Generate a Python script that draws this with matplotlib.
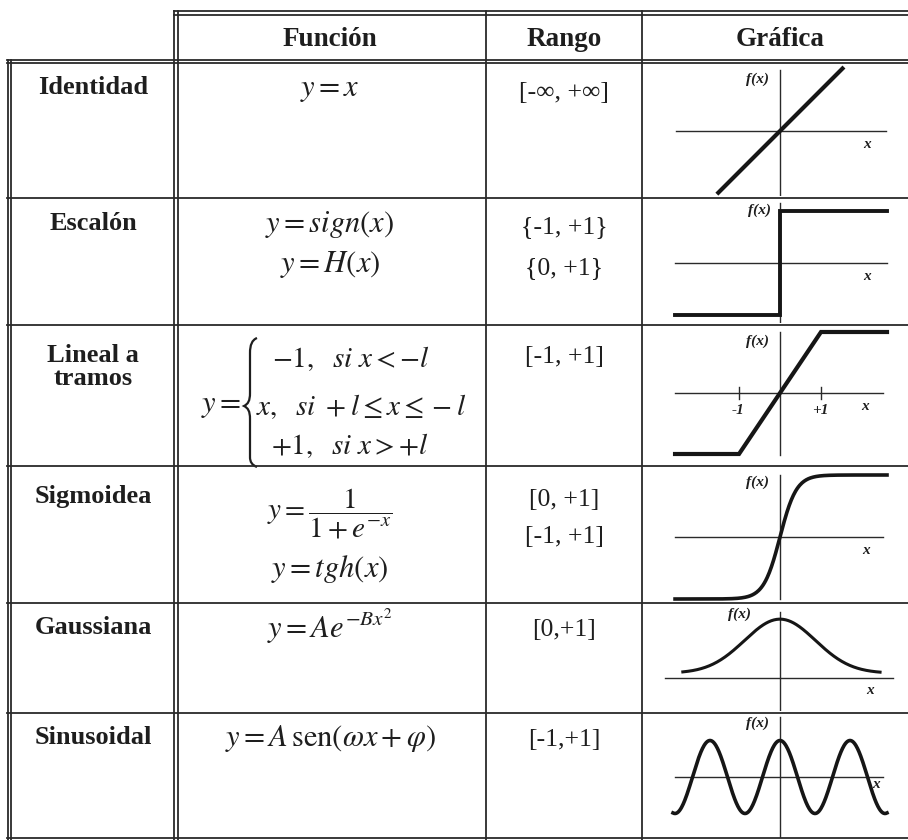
import numpy as np
import matplotlib.pyplot as plt
from matplotlib.path import Path
from matplotlib.patches import PathPatch

plt.rcParams['mathtext.fontset'] = 'stix'

W, H = 908, 840

# table content
headers = ["Función", "Rango", "Gráfica"]
row_names = ["Identidad", "Escalón", "Lineal a\ntramos", "Sigmoidea", "Gaussiana", "Sinusoidal"]
formulas = [
    ["$y = x$"],
    ["$y = sign(x)$", "$y = H(x)$"],
    [],  # piecewise, drawn separately
    ["$y = \\dfrac{1}{1+e^{-x}}$", "$y = tgh(x)$"],
    ["$y = Ae^{-Bx^2}$"],
    ["$y = A\\,\\mathrm{sen}(\\omega x + \\varphi)$"],
]
piecewise = ["$-1,\\ \\ si\\ x < -l$", "$x,\\ \\ si\\ +l \\leq x \\leq -l$", "$+1,\\ \\ si\\ x > +l$"]
ranges = [
    ["[-∞, +∞]"],
    ["{-1, +1}", "{0, +1}"],
    ["[-1, +1]"],
    ["[0, +1]", "[-1, +1]"],
    ["[0,+1]"],
    ["[-1,+1]"],
]

# graph data (x in units where the +/-1 ticks of "Lineal a tramos" sit at +/-1)
ident_x = [-1.54, 1.56]
ident_y = [-1.54, 1.56]
step_x = [-2.56, 0, 0, 2.61]
step_y = [-1, -1, 1, 1]
ramp_x = [-2.56, -1, 1, 2.61]
ramp_y = [-1, -1, 1, 1]
sigmoid_gain = 2.5
gauss_B = 0.67
gauss_offset = 0.09
sine_omega = 3.68

# layout in pixels
row_tops = [62, 198, 325, 466, 603, 713, 840]
col_x = [10, 176, 486, 642, 908]
x_origin = 780
x_unit = 41

fig = plt.figure(figsize=(W / 100, H / 100), dpi=100)
ax = fig.add_axes([0, 0, 1, 1])
ax.set_xlim(0, W)
ax.set_ylim(H, 0)
ax.axis("off")

lc = "#2a2a2a"
lw_t = 1.3

# borders
for off in (0, 3.5):
    ax.plot([col_x[1] - 2, W], [11 + off, 11 + off], color=lc, lw=lw_t)
    ax.plot([col_x[1] - 2 + off, col_x[1] - 2 + off], [11, H], color=lc, lw=lw_t)
    ax.plot([7, W], [59.5 + off, 59.5 + off], color=lc, lw=lw_t)
    ax.plot([7.5 + off, 7.5 + off], [59.5, H], color=lc, lw=lw_t)
for y in row_tops[1:-1]:
    ax.plot([7, W], [y, y], color=lc, lw=lw_t)
ax.plot([7, W], [838, 838], color=lc, lw=lw_t)
for x in col_x[2:4]:
    ax.plot([x, x], [11, H], color=lc, lw=lw_t)

serif = "Liberation Serif"
tc = "#1e1e1e"

# header
header_x = [330, 564, 780]
for h, cx in zip(headers, header_x):
    ax.text(cx, 39, h, ha="center", va="center", fontsize=19.5, fontweight="bold",
            family=serif, color=tc)

# row labels
label_y = [88, 223, 367, 497, 627, 738]
for name, y in zip(row_names, label_y):
    ax.text(93, y, name, ha="center", va="center", fontsize=19, fontweight="bold",
            family=serif, color=tc, linespacing=1.05)

# formulas
formula_y = [[90], [225, 265], [], [514, 569], [626], [738]]
for f, ys in zip(formulas, formula_y):
    for txt, y in zip(f, ys):
        ax.text(330, y, txt, ha="center", va="center",
                fontsize=21 if "dfrac" in txt else 22, color=tc)

ax.text(221, 406, "$y =$", ha="center", va="center", fontsize=22, color=tc)

# curly brace of the piecewise definition
brace = Path(
    [(257, 338), (252, 340), (250, 345), (250, 353),
     (250, 393),
     (250, 401), (248, 404), (244, 406),
     (248, 408), (250, 411), (250, 419),
     (250, 457),
     (250, 462), (252, 465), (257, 467)],
    [Path.MOVETO, Path.CURVE4, Path.CURVE4, Path.CURVE4,
     Path.LINETO,
     Path.CURVE4, Path.CURVE4, Path.CURVE4,
     Path.CURVE4, Path.CURVE4, Path.CURVE4,
     Path.LINETO,
     Path.CURVE4, Path.CURVE4, Path.CURVE4])
ax.add_patch(PathPatch(brace, facecolor="none", edgecolor=tc, lw=1.6))

for txt, x, y in zip(piecewise, [351, 361, 350], [359, 407, 446]):
    ax.text(x, y, txt, ha="center", va="center", fontsize=21, color=tc)

# ranges
range_y = [[93], [227, 268], [357], [500, 537], [630], [740]]
for r, ys in zip(ranges, range_y):
    for txt, y in zip(r, ys):
        ax.text(564, y, txt, ha="center", va="center", fontsize=18.5, family=serif, color=tc)


def graph_axes(top, bottom, y_origin, y_unit):
    left, right = 655, 905
    g = fig.add_axes([left / W, 1 - (bottom - 2) / H, (right - left) / W, (bottom - top - 4) / H])
    g.set_xlim((left - x_origin) / x_unit, (right - x_origin) / x_unit)
    g.set_ylim((y_origin - bottom + 2) / y_unit, (y_origin - top - 2) / y_unit)
    g.axis("off")
    return g


def axes_lines(g, hx, vy):
    g.plot([(hx[0] - x_origin) / x_unit, (hx[1] - x_origin) / x_unit], [0, 0],
           color=lc, lw=1.0)
    g.plot([0, 0], vy, color=lc, lw=1.0)


gc = "#161616"
fx_kw = dict(ha="center", va="center", fontsize=11, family=serif, style="italic",
             fontweight="bold", color=tc)

# Identidad
g = graph_axes(row_tops[0], row_tops[1], 131, 41)
axes_lines(g, (676, 886), [-1.56, 1.49])
g.plot(ident_x, ident_y, color=gc, lw=3.0, solid_capstyle="butt")
ax.text(757, 79, "f(x)", **fx_kw)
ax.text(867, 145, "x", **fx_kw)

# Escalón
g = graph_axes(row_tops[1], row_tops[2], 263, 52)
axes_lines(g, (675, 887), [-1.15, 1.15])
g.plot(step_x, step_y, color=gc, lw=2.8, solid_joinstyle="miter")
ax.text(760, 210, "f(x)", **fx_kw)
ax.text(867, 276, "x", **fx_kw)

# Lineal a tramos
g = graph_axes(row_tops[2], row_tops[3], 393, 61)
axes_lines(g, (675, 883), [-1.02, 1.0])
for t in (-1, 1):
    g.plot([t, t], [-0.1, 0.1], color=lc, lw=1.0)
g.plot(ramp_x, ramp_y, color=gc, lw=3.0, solid_joinstyle="miter")
ax.text(757, 341, "f(x)", **fx_kw)
ax.text(738, 410, "-1", **fx_kw)
ax.text(820, 410, "+1", **fx_kw)
ax.text(865, 406, "x", **fx_kw)

# Sigmoidea
g = graph_axes(row_tops[3], row_tops[4], 537, 62)
axes_lines(g, (675, 883), [-1.0, 1.0])
xs = np.linspace(-2.56, 2.61, 300)
g.plot(xs, np.tanh(sigmoid_gain * xs), color=gc, lw=2.6)
ax.text(757, 482, "f(x)", **fx_kw)
ax.text(866, 550, "x", **fx_kw)

# Gaussiana
g = graph_axes(row_tops[4], row_tops[5], 678, 54)
axes_lines(g, (665, 893), [-0.59, 1.22])
xs = np.linspace(-2.37, 2.44, 300)
g.plot(xs, gauss_offset + np.exp(-gauss_B * xs ** 2), color=gc, lw=2.2)
ax.text(740, 614, "f(x)", **fx_kw)
ax.text(870, 691, "x", **fx_kw)

# Sinusoidal
g = graph_axes(row_tops[5], row_tops[6], 777, 36.5)
axes_lines(g, (675, 883), [-1.85, 1.65])
xs = np.linspace(-2.61, 2.61, 400)
g.plot(xs, np.cos(sine_omega * xs), color=gc, lw=2.6)
ax.text(757, 723, "f(x)", **fx_kw)
ax.text(876, 784, "x", **fx_kw)

fig.savefig("out.png", dpi=100, facecolor="white")
